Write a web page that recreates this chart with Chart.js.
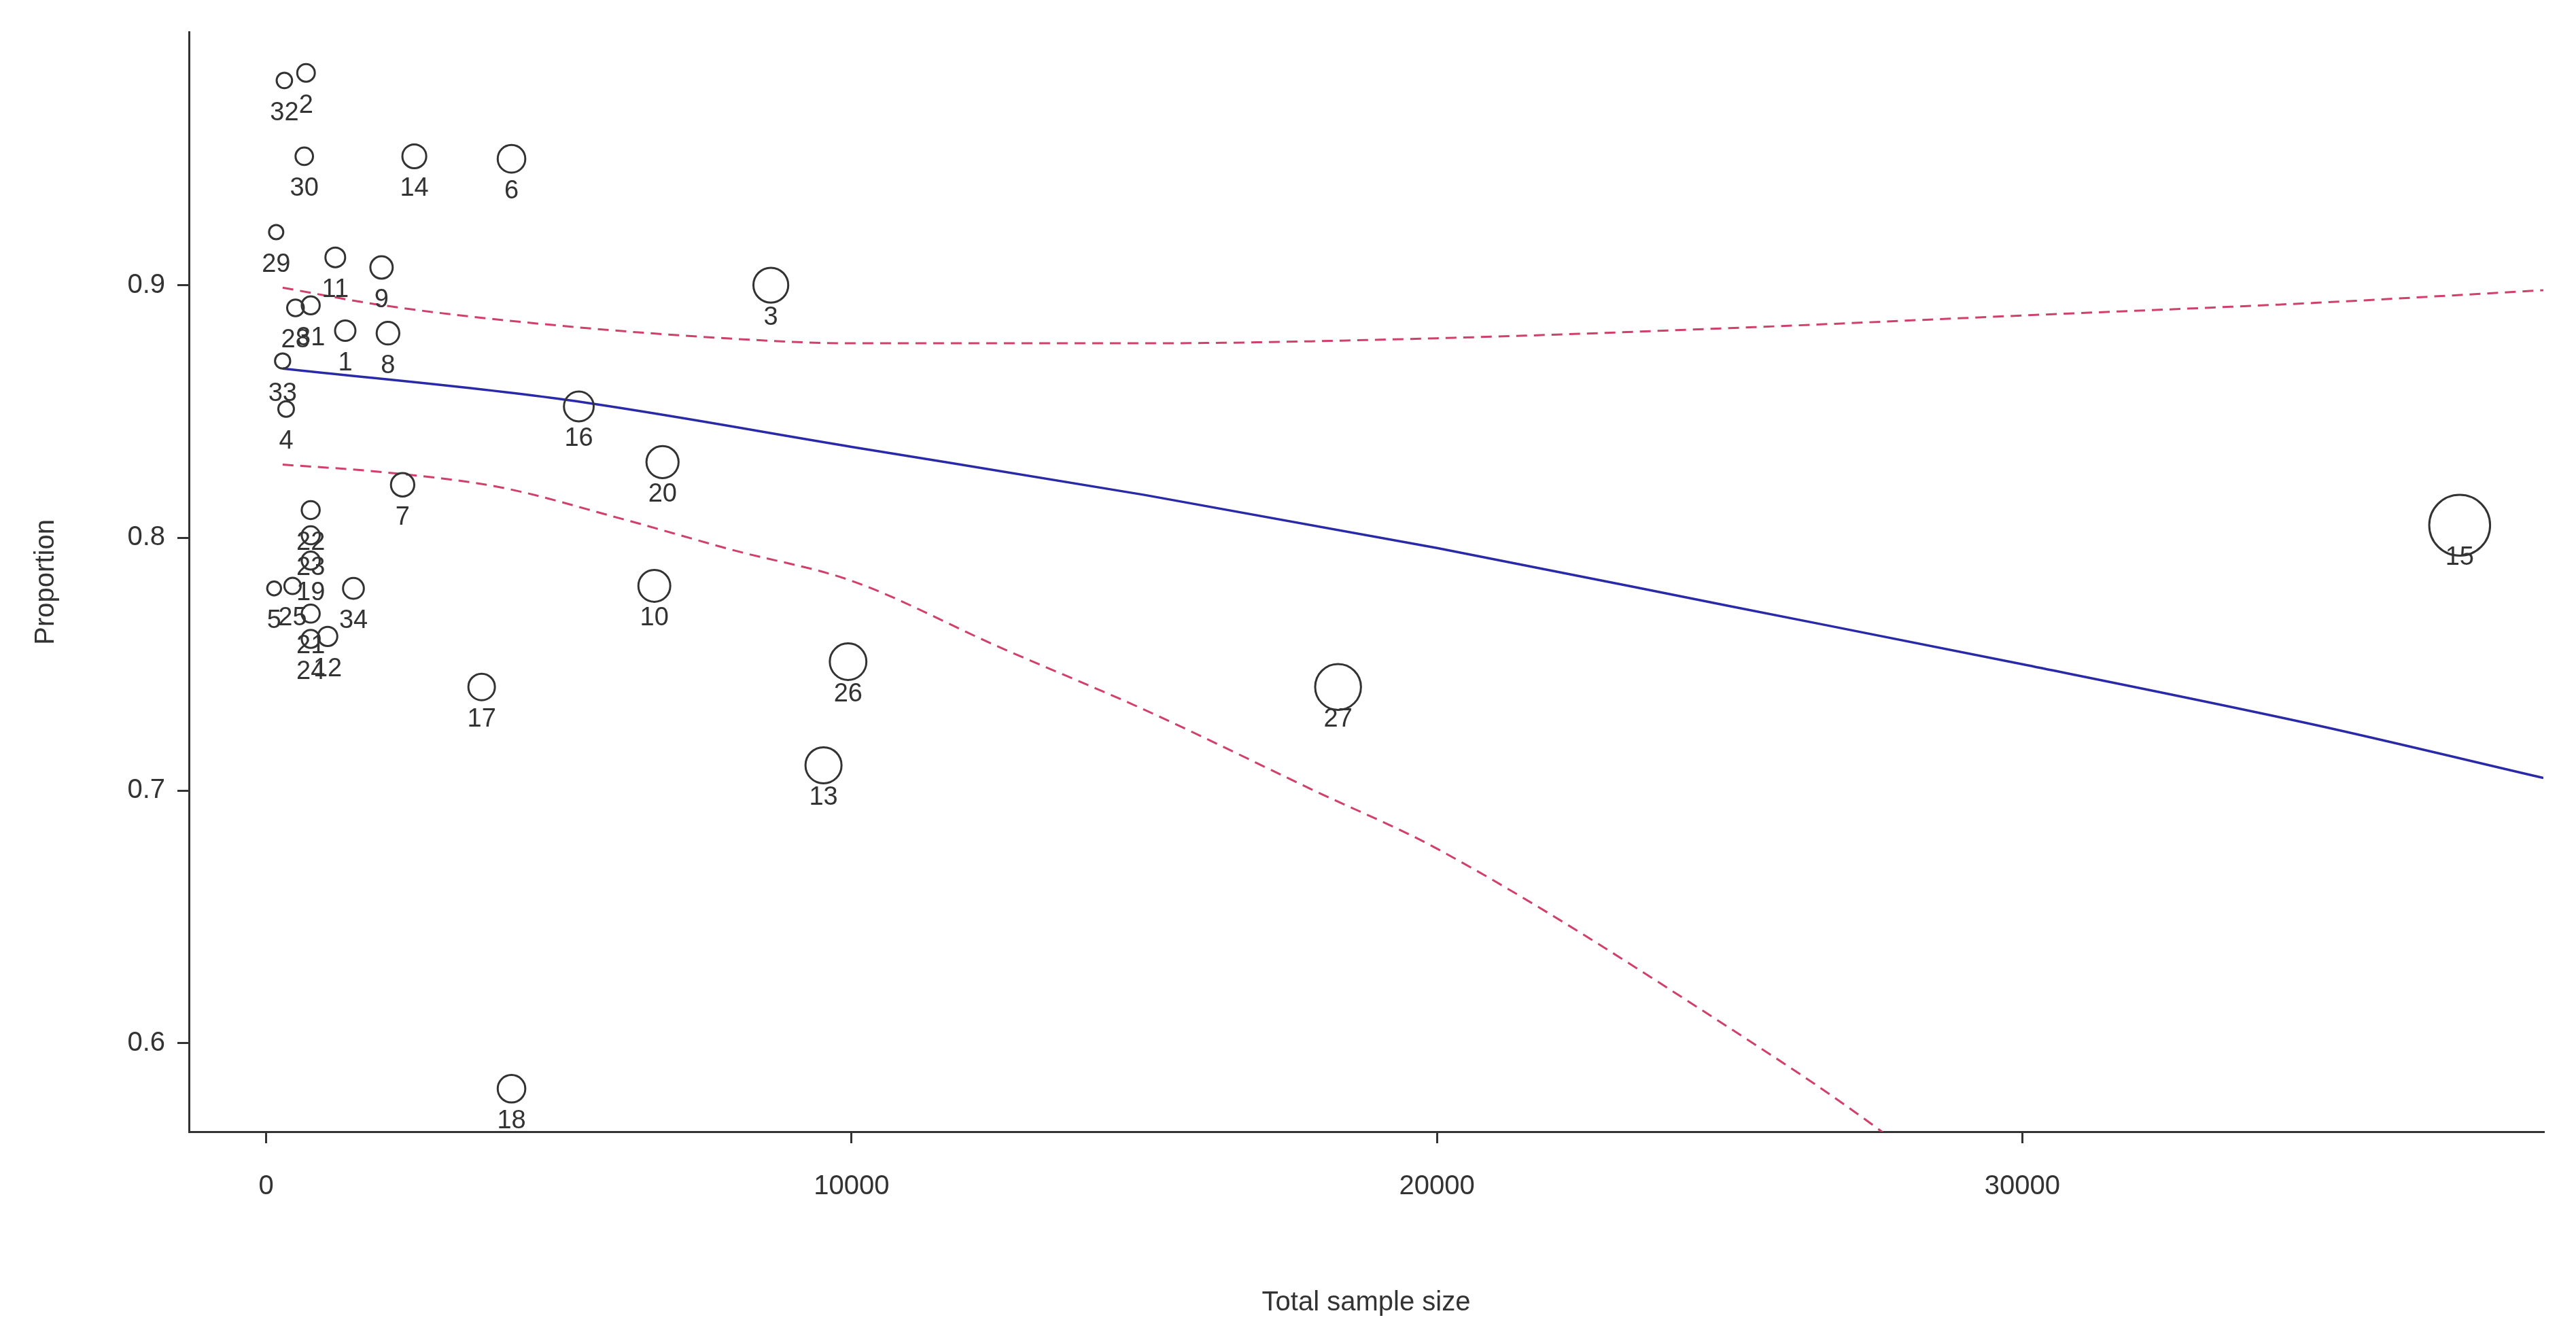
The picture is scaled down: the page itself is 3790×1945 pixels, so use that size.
<!DOCTYPE html>
<html><head><meta charset="utf-8">
<script src="https://cdn.jsdelivr.net/npm/chart.js@4"></script>
<style>html,body{margin:0;padding:0;background:#fff}#w{width:3790px;height:1945px}</style>
</head><body><div id="w"><canvas id="c"></canvas></div>
<script>
const studyIds   = [32,2,30,14,6,29,11,9,28,31,1,8,33,4,3,16,20,7,22,23,19,25,5,21,24,12,34,17,10,26,13,27,15,18];
const sampleSize = [310,680,650,2530,4190,170,1180,1970,500,760,1350,2080,280,340,8620,5340,6770,2330,760,760,760,450,135,760,760,1050,1490,3680,6630,9940,9520,18310,37470,4190];
const proportion = [0.981,0.984,0.951,0.951,0.950,0.921,0.911,0.907,0.891,0.892,0.882,0.881,0.870,0.851,0.900,0.852,0.830,0.821,0.811,0.801,0.791,0.781,0.780,0.770,0.760,0.761,0.780,0.741,0.781,0.751,0.710,0.741,0.805,0.582];
const fitX   = [280,5000,10000,15000,20000,25000,30000,35000,38900];
const fitY   = [0.867,0.855,0.836,0.817,0.796,0.773,0.750,0.726,0.705];
const upperX = [280,2000,5000,8600,10000,15000,20000,25000,30000,35000,38900];
const upperY = [0.899,0.892,0.884,0.878,0.877,0.877,0.879,0.883,0.888,0.893,0.898];
const lowerX = [280,2000,4000,6000,8000,10000,12500,15000,17900,20000,25000,27600,30000];
const lowerY = [0.829,0.826,0.820,0.808,0.795,0.783,0.757,0.732,0.700,0.677,0.606,0.565,0.52];
const xTicks = [0,10000,20000,30000];
const yTicks = [0.6,0.7,0.8,0.9];

const pts = studyIds.map((id,i)=>({x:sampleSize[i],y:proportion[i]}));
const radius = ctx => { const n = sampleSize[ctx.dataIndex]; return 8 + 0.19*Math.sqrt(n); };
const toXY = (xs,ys)=>xs.map((x,i)=>({x:x,y:ys[i]}));
const F = "'Liberation Sans', Arial, sans-serif";

const labelPlugin = {
  id:'lbl',
  afterDatasetsDraw(chart){
    const ctx = chart.ctx, meta = chart.getDatasetMeta(0);
    const a = chart.chartArea;
    ctx.save();
    ctx.beginPath(); ctx.rect(a.left,a.top,a.right-a.left,a.bottom-a.top+60); ctx.clip();
    ctx.fillStyle='#333'; ctx.font='38px '+F; ctx.textAlign='center'; ctx.textBaseline='middle';
    meta.data.forEach((el,i)=>{ ctx.fillText(String(studyIds[i]), el.x, el.y+48); });
    ctx.restore();
  }
};

const lineOpts = {showLine:true, pointRadius:0, cubicInterpolationMode:'monotone'};

new Chart(document.getElementById('c'),{
  type:'scatter',
  data:{datasets:[
    {data:pts, showLine:false, pointStyle:'circle', pointRadius:radius, pointHoverRadius:radius,
     backgroundColor:'rgba(0,0,0,0)', borderColor:'#333', pointBorderWidth:3, order:0},
    Object.assign({data:toXY(fitX,fitY), borderColor:'#2a2aa8', borderWidth:3.5, order:1}, lineOpts),
    Object.assign({data:toXY(upperX,upperY), borderColor:'#d0406a', borderWidth:3, borderDash:[16,10], order:2}, lineOpts),
    Object.assign({data:toXY(lowerX,lowerY), borderColor:'#d0406a', borderWidth:3, borderDash:[16,10], order:3}, lineOpts)
  ]},
  options:{
    responsive:true, maintainAspectRatio:false, animation:false, devicePixelRatio:1,
    layout:{padding:{top:26,right:48,left:40,bottom:0}},
    plugins:{legend:{display:false},tooltip:{enabled:false}},
    scales:{
      x:{type:'linear',min:-1320,max:38900,
        afterBuildTicks:s=>{s.ticks=xTicks.map(v=>({value:v}));},
        afterFit:s=>{s.height=280;},
        grid:{drawOnChartArea:false,drawTicks:true,tickLength:17,color:'#333',lineWidth:3},
        border:{display:true,color:'#333',width:3},
        ticks:{color:'#333',font:{family:F,size:40},padding:40,callback:v=>String(v)},
        title:{display:true,text:'Total sample size',color:'#333',font:{family:F,size:40},padding:{top:60}}
      },
      y:{type:'linear',min:0.565,max:1.0,
        afterBuildTicks:s=>{s.ticks=yTicks.map(v=>({value:v}));},
        afterFit:s=>{s.width=238;},
        grid:{drawOnChartArea:false,drawTicks:true,tickLength:17,color:'#333',lineWidth:3},
        border:{display:true,color:'#333',width:3},
        ticks:{color:'#333',font:{family:F,size:40},padding:18,callback:v=>v.toFixed(1)},
        title:{display:true,text:'Proportion',color:'#333',font:{family:F,size:40},padding:{bottom:10}}
      }
    }
  },
  plugins:[labelPlugin]
});
</script></body></html>
